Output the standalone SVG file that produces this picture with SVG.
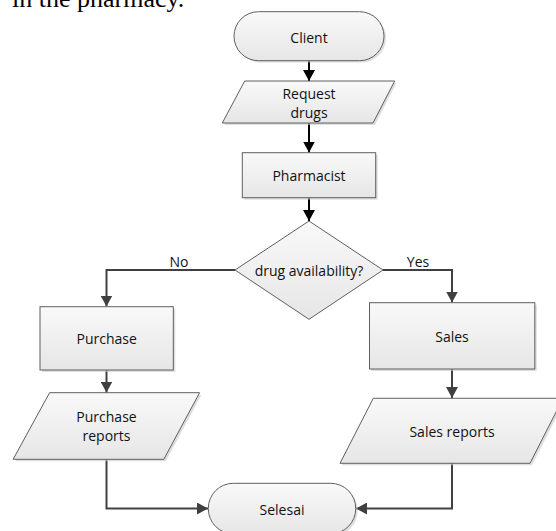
<svg xmlns="http://www.w3.org/2000/svg" width="556" height="531" viewBox="0 0 556 531">
<style>
.shape{fill:url(#g);stroke:#5f5f5f;stroke-width:1}
.shadow{fill:#c8c8c8;stroke:none;opacity:0.6}
.lbl{font-family:"Open Sans","Liberation Sans",sans-serif;font-size:14px;fill:#111;text-anchor:middle;dominant-baseline:central}
.c1{fill:none;stroke:#000;stroke-width:2}
.c2{fill:none;stroke:#404040;stroke-width:2}
</style>
<defs>
<linearGradient id="g" x1="0" y1="0" x2="0" y2="1">
<stop offset="0" stop-color="#f9f9f9"/>
<stop offset="1" stop-color="#e6e6e6"/>
</linearGradient>
<marker id="a1" markerUnits="userSpaceOnUse" markerWidth="12" markerHeight="12" refX="11" refY="6" orient="auto"><path d="M0,0 L11,6 L0,12 z" fill="#000"/></marker>
<marker id="a2" markerUnits="userSpaceOnUse" markerWidth="12" markerHeight="12" refX="11" refY="6" orient="auto"><path d="M0,0 L11,6 L0,12 z" fill="#404040"/></marker>
</defs>
<rect width="556" height="531" fill="#fff"/>
<text x="12" y="7" font-family="'Liberation Serif',serif" font-size="26" fill="#000">in the pharmacy.</text>

<g id="connectors">
<line class="c1" x1="309" y1="61" x2="309" y2="81" marker-end="url(#a1)"/>
<line class="c1" x1="309" y1="123" x2="309" y2="152.5" marker-end="url(#a1)"/>
<line class="c1" x1="309" y1="197.7" x2="309" y2="221" marker-end="url(#a1)"/>
<polyline class="c2" points="235,270 106.5,270 106.5,306.5" marker-end="url(#a2)"/>
<polyline class="c2" points="383,270 452,270 452,302.5" marker-end="url(#a2)"/>
<line class="c2" x1="106.5" y1="370" x2="106.5" y2="392.5" marker-end="url(#a2)"/>
<line class="c2" x1="452" y1="369" x2="452" y2="398" marker-end="url(#a2)"/>
<polyline class="c2" points="106.5,459.3 106.5,508.5 208,508.5" marker-end="url(#a2)"/>
<polyline class="c2" points="452,463.3 452,508.5 356,508.5" marker-end="url(#a2)"/>
<text class="lbl" x="179" y="261.5">No</text>
<text class="lbl" x="418" y="261.5">Yes</text>
</g>

<g id="client">
<rect class="shadow" x="236" y="13.5" width="150" height="49" rx="24.5"/>
<rect class="shape" x="234" y="11.7" width="150" height="49" rx="24.5"/>
<text class="lbl" x="309" y="37">Client</text>
</g>

<g id="request">
<polygon class="shadow" points="246.5,83 396.5,83 375,125 224.5,125"/>
<polygon class="shape" points="244.7,81 394.7,81 373,123 222.3,123"/>
<text class="lbl" x="309" y="93.5">Request</text>
<text class="lbl" x="309" y="112.5">drugs</text>
</g>

<g id="pharmacist">
<rect class="shadow" x="244.3" y="154.7" width="133.4" height="45"/>
<rect class="shape" x="242.3" y="152.7" width="133.4" height="45"/>
<text class="lbl" x="309" y="175">Pharmacist</text>
</g>

<g id="decision">
<polygon class="shape" points="309,221 383,270 309,319.3 235,270"/>
<text class="lbl" x="309" y="270">drug availability?</text>
</g>

<g id="purchase">
<rect class="shadow" x="42" y="308.7" width="133.3" height="63.3"/>
<rect class="shape" x="40" y="306.7" width="133.3" height="63.3"/>
<text class="lbl" x="106.7" y="338.5">Purchase</text>
</g>

<g id="purchase-reports">
<polygon class="shadow" points="51.6,394.7 201.6,394.7 165.8,461.3 15.1,461.3"/>
<polygon class="shape" points="49.6,392.7 199.6,392.7 163.8,459.3 13.1,459.3"/>
<text class="lbl" x="106.5" y="416.5">Purchase</text>
<text class="lbl" x="106.5" y="435">reports</text>
</g>

<g id="sales">
<rect class="shadow" x="371.5" y="304.7" width="165.3" height="66.3"/>
<rect class="shape" x="369.5" y="302.7" width="165.3" height="66.3"/>
<text class="lbl" x="452" y="336.5">Sales</text>
</g>

<g id="sales-reports">
<polygon class="shadow" points="375.3,400.3 565,400.3 532,465.3 342,465.3"/>
<polygon class="shape" points="373.3,398.3 563,398.3 530,463.3 340,463.3"/>
<text class="lbl" x="452" y="431.7">Sales reports</text>
</g>

<g id="selesai">
<rect class="shadow" x="210.3" y="485.3" width="147.4" height="50.5" rx="25"/>
<rect class="shape" x="208.3" y="483.3" width="147.4" height="50.5" rx="25"/>
<text class="lbl" x="282" y="509">Selesai</text>
</g>
</svg>
